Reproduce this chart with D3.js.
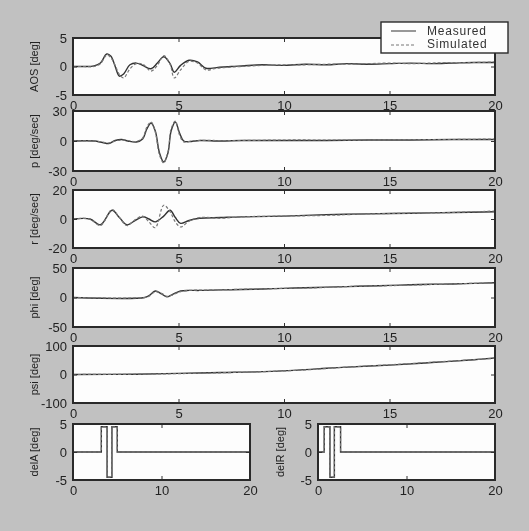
<!DOCTYPE html>
<html>
<head>
<meta charset="utf-8">
<script src="https://cdn.jsdelivr.net/npm/d3@7"></script>
<style>
  html, body { margin: 0; padding: 0; background: #c1c1c1; }
  svg { display: block; }
  .tick text { font-family: "Liberation Sans", Arial, sans-serif; font-size: 13px; fill: #222; }
  .ylab { font-family: "Liberation Sans", Arial, sans-serif; font-size: 11px; fill: #222; }
  .legend text { font-family: "Liberation Sans", Arial, sans-serif; font-size: 12px; letter-spacing: 0.8px; fill: #333; }
</style>
</head>
<body>
<div id="chart"></div>
<script>
(function(){

  // time axis ticks
  var xTicksLong = [0, 5, 10, 15, 20];
  var xTicksShort = [0, 10, 20];

  // AOS [deg]
  var aosT    = [0, 0.5, 1.0, 1.3, 1.6, 1.8, 2.0, 2.2, 2.4, 2.7, 3.0, 3.3, 3.7, 4.0, 4.3, 4.6, 4.8, 5.1, 5.5, 5.9, 6.3, 6.8, 7.5, 8, 9, 10, 11, 12, 13, 14, 15, 16, 17, 18, 19, 20];
  var aosMeas = [0, 0, 0.1, 0.6, 2.2, 1.8, 0, -1.7, -1.3, 0.3, 0.6, 0.2, -0.4, 0.6, 1.7, 0.5, -1.0, 0.2, 1.1, 0.8, -0.3, -0.2, 0, 0.1, 0.3, 0.2, 0.4, 0.3, 0.5, 0.4, 0.5, 0.6, 0.5, 0.6, 0.7, 0.7];
  var aosSim  = [0, 0, 0, 0.5, 2.0, 1.5, 0.2, -1.4, -2.0, -0.4, 0.5, 0.4, -0.8, 0.2, 1.9, 0.4, -2.0, -0.6, 0.9, 0.6, -0.6, -0.3, -0.1, 0, 0.2, 0.3, 0.3, 0.4, 0.4, 0.5, 0.6, 0.5, 0.6, 0.7, 0.7, 0.8];

  // p [deg/sec]
  var pT    = [0, 1, 1.4, 1.7, 2.0, 2.3, 2.6, 3.0, 3.3, 3.5, 3.7, 3.9, 4.1, 4.3, 4.5, 4.65, 4.85, 5.05, 5.25, 5.6, 6, 7, 8, 10, 12, 14, 16, 18, 20];
  var pMeas = [0, 0, -1.5, -2.5, 0.5, 1.5, 0, -1, 2, 12, 18, 10, -12, -21, -12, 10, 19, 8, 0, -0.5, 0.5, 0, 0.5, 0.5, 0.5, 1, 1, 1.5, 1.5];
  var pSim  = [0, 0, -1, -2, 0, 1, 0.5, -0.5, 3, 14, 19, 9, -14, -22, -11, 12, 20, 6, -1, 0, 0.5, 0.5, 0.5, 1, 1, 1, 1.5, 1.5, 2];

  // r [deg/sec]
  var rT    = [0, 0.8, 1.3, 1.85, 2.2, 2.55, 2.9, 3.3, 3.6, 3.9, 4.3, 4.6, 4.85, 5.1, 5.5, 6, 7, 8, 10, 12, 14, 16, 18, 20];
  var rMeas = [0, 0, -4, 6, 1, -4, -1.5, 1.5, 0, -2, 2, 6, 1, -3, -1, 0.5, 1, 1.5, 2, 3, 3.5, 4, 4.5, 5];
  var rSim  = [0, 0, -4.5, 6.5, 1, -4.5, -1, 2, -2, -6, 9.5, 5, -2, -5.5, -1.5, 1, 0.5, 1.5, 2, 2.5, 3.5, 4, 4.5, 5.5];

  // phi [deg]
  var phiT    = [0, 3.4, 3.6, 3.9, 4.2, 4.45, 4.7, 5.1, 5.5, 6, 7, 8, 9, 10, 11, 12, 13, 14, 15, 16, 17, 18, 19, 20];
  var phiMeas = [0, 0, 3, 11, 6, 1, 5, 11, 12, 12, 13, 13.5, 14.5, 15.5, 16.5, 17.5, 18.5, 19.5, 20.5, 21.5, 22.5, 23, 24, 25];
  var phiSim  = [0, 0, 2, 10, 7, 2, 4, 10, 12, 12.5, 13, 14, 14.5, 15.5, 16, 17, 18.5, 19.5, 20, 21, 22, 23, 24, 24.5];

  // psi [deg]
  var psiT    = [0, 3, 5, 7, 9, 11, 12, 13, 15, 17, 19, 20];
  var psiMeas = [0, 1, 4, 7, 10, 17, 22, 26, 33, 42, 52, 58];
  var psiSim  = [0, 1, 3, 6, 10, 16, 21, 26, 34, 43, 52, 57];

  // control inputs [deg]
  var delAT = [0, 3.2, 3.2, 3.85, 3.85, 4.4, 4.4, 5.0, 5.0, 20];
  var delAV = [0, 0, 4.5, 4.5, -4.5, -4.5, 4.5, 4.5, 0, 0];
  var delRT = [0, 0.7, 0.7, 1.35, 1.35, 1.85, 1.85, 2.55, 2.55, 20];
  var delRV = [0, 0, 4.5, 4.5, -4.5, -4.5, 4.5, 4.5, 0, 0];

  var legendLabels = ["Measured", "Simulated"];

  var width = 529, height = 531;

  var svg = d3.select("#chart").append("svg")
    .attr("width", width)
    .attr("height", height);

  // slight blur to match the scanned look
  var defs = svg.append("defs");
  defs.append("filter").attr("id", "soft")
    .append("feGaussianBlur").attr("stdDeviation", 0.45);

  svg.append("rect")
    .attr("width", width).attr("height", height)
    .attr("fill", "#c1c1c1");

  var root = svg.append("g").attr("filter", "url(#soft)");

  function zip(t, v){
    return t.map(function(d, i){ return [d, v[i]]; });
  }

  var panels = [
    {label: "AOS [deg]", x0: 73, x1: 495, y0: 38, y1: 95, yDom: [-5, 5], yTicks: [-5, 0, 5], xTicks: xTicksLong,
     meas: zip(aosT, aosMeas), sim: zip(aosT, aosSim), smooth: true},
    {label: "p [deg/sec]", x0: 73, x1: 495, y0: 111, y1: 171, yDom: [-30, 30], yTicks: [-30, 0, 30], xTicks: xTicksLong,
     meas: zip(pT, pMeas), sim: zip(pT, pSim), smooth: true},
    {label: "r [deg/sec]", x0: 73, x1: 495, y0: 190, y1: 248, yDom: [-20, 20], yTicks: [-20, 0, 20], xTicks: xTicksLong,
     meas: zip(rT, rMeas), sim: zip(rT, rSim), smooth: true},
    {label: "phi [deg]", x0: 73, x1: 495, y0: 268, y1: 327, yDom: [-50, 50], yTicks: [-50, 0, 50], xTicks: xTicksLong,
     meas: zip(phiT, phiMeas), sim: zip(phiT, phiSim), smooth: true},
    {label: "psi [deg]", x0: 73, x1: 495, y0: 346, y1: 403, yDom: [-100, 100], yTicks: [-100, 0, 100], xTicks: xTicksLong,
     meas: zip(psiT, psiMeas), sim: zip(psiT, psiSim), smooth: true},
    {label: "delA [deg]", x0: 73, x1: 250, y0: 424, y1: 480, yDom: [-5, 5], yTicks: [-5, 0, 5], xTicks: xTicksShort,
     meas: zip(delAT, delAV), sim: zip(delAT, delAV), smooth: false, labelX: 38},
    {label: "delR [deg]", x0: 318, x1: 495, y0: 424, y1: 480, yDom: [-5, 5], yTicks: [-5, 0, 5], xTicks: xTicksShort,
     meas: zip(delRT, delRV), sim: zip(delRT, delRV), smooth: false, labelX: 284}
  ];

  panels.forEach(drawPanel);

  function drawPanel(p){
    var x = d3.scaleLinear().domain([0, 20]).range([p.x0, p.x1]);
    var y = d3.scaleLinear().domain(p.yDom).range([p.y1, p.y0]);
    var g = root.append("g");

    g.append("rect")
      .attr("x", p.x0).attr("y", p.y0)
      .attr("width", p.x1 - p.x0).attr("height", p.y1 - p.y0)
      .attr("fill", "#fdfdfd");

    var clipId = "clip" + Math.round(p.y0) + "_" + Math.round(p.x0);
    defs.append("clipPath").attr("id", clipId)
      .append("rect")
      .attr("x", p.x0).attr("y", p.y0)
      .attr("width", p.x1 - p.x0).attr("height", p.y1 - p.y0);

    var line = d3.line()
      .x(function(d){ return x(d[0]); })
      .y(function(d){ return y(d[1]); })
      .curve(p.smooth ? d3.curveCatmullRom.alpha(0.5) : d3.curveLinear);

    var lines = g.append("g").attr("clip-path", "url(#" + clipId + ")");
    lines.append("path")
      .attr("d", line(p.meas))
      .attr("fill", "none")
      .attr("stroke", "#333")
      .attr("stroke-width", 1.4);
    lines.append("path")
      .attr("d", line(p.sim))
      .attr("fill", "none")
      .attr("stroke", "#777")
      .attr("stroke-width", 1.2)
      .attr("stroke-dasharray", "3,2");

    var fmt = function(d){ return String(d); };

    g.append("g")
      .attr("transform", "translate(0," + p.y1 + ")")
      .call(d3.axisBottom(x).tickValues(p.xTicks).tickSize(-4).tickPadding(6).tickFormat(fmt));
    g.append("g")
      .attr("transform", "translate(0," + p.y0 + ")")
      .call(d3.axisTop(x).tickValues(p.xTicks).tickSize(-4).tickFormat(""));
    g.append("g")
      .attr("transform", "translate(" + p.x0 + ",0)")
      .call(d3.axisLeft(y).tickValues(p.yTicks).tickSize(-4).tickPadding(6).tickFormat(fmt));
    g.append("g")
      .attr("transform", "translate(" + p.x1 + ",0)")
      .call(d3.axisRight(y).tickValues(p.yTicks).tickSize(-4).tickFormat(""));

    g.selectAll(".domain").remove();
    g.selectAll(".tick line").attr("stroke", "#333").attr("stroke-width", 1);

    // box
    g.append("rect")
      .attr("x", p.x0).attr("y", p.y0)
      .attr("width", p.x1 - p.x0).attr("height", p.y1 - p.y0)
      .attr("fill", "none")
      .attr("stroke", "#2a2a2a")
      .attr("stroke-width", 2);

    var lx = p.labelX || 38;
    g.append("text")
      .attr("class", "ylab")
      .attr("transform", "translate(" + lx + "," + ((p.y0 + p.y1) / 2) + ") rotate(-90)")
      .attr("text-anchor", "middle")
      .text(p.label);
  }

  // legend
  var leg = root.append("g").attr("class", "legend");
  leg.append("rect")
    .attr("x", 381).attr("y", 22)
    .attr("width", 127).attr("height", 31)
    .attr("fill", "#fdfdfd")
    .attr("stroke", "#2a2a2a")
    .attr("stroke-width", 1.4);
  leg.append("line")
    .attr("x1", 391).attr("x2", 416).attr("y1", 31).attr("y2", 31)
    .attr("stroke", "#555").attr("stroke-width", 1.2);
  leg.append("line")
    .attr("x1", 391).attr("x2", 416).attr("y1", 45).attr("y2", 45)
    .attr("stroke", "#777").attr("stroke-width", 1.2)
    .attr("stroke-dasharray", "3,2");
  leg.selectAll("text.lt")
    .data(legendLabels)
    .enter().append("text")
    .attr("class", "lt")
    .attr("x", 427)
    .attr("y", function(d, i){ return 35 + i * 13; })
    .text(function(d){ return d; });

})();
</script>
</body>
</html>
